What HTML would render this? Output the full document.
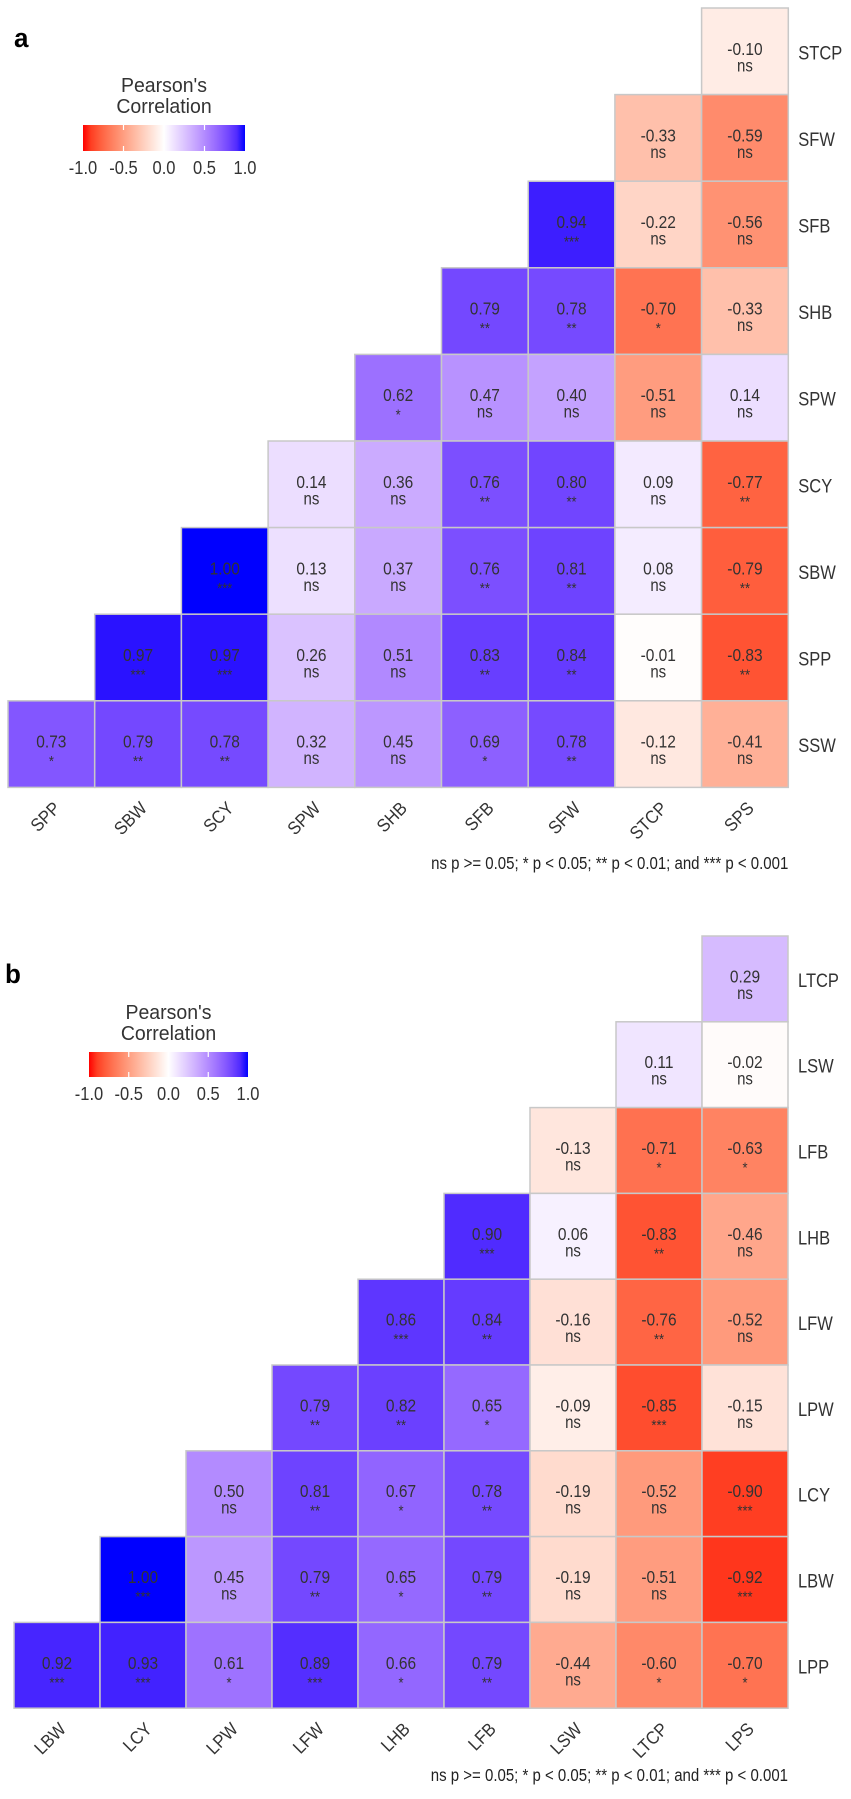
<!DOCTYPE html>
<html><head><meta charset="utf-8">
<style>
html,body{margin:0;padding:0;background:#fff;}
svg{display:block;font-family:"Liberation Sans",Arial,sans-serif;}
</style></head>
<body>
<svg id="chart" width="851" height="1799" viewBox="0 0 851 1799" xmlns="http://www.w3.org/2000/svg"></svg>
<script>
// ----- Panel a data -----
const colsA = ["SPP","SBW","SCY","SPW","SHB","SFB","SFW","STCP","SPS"];
const rowsA = ["STCP","SFW","SFB","SHB","SPW","SCY","SBW","SPP","SSW"];
const valsA = [
 [-0.10],
 [-0.33,-0.59],
 [0.94,-0.22,-0.56],
 [0.79,0.78,-0.70,-0.33],
 [0.62,0.47,0.40,-0.51,0.14],
 [0.14,0.36,0.76,0.80,0.09,-0.77],
 [1.00,0.13,0.37,0.76,0.81,0.08,-0.79],
 [0.97,0.97,0.26,0.51,0.83,0.84,-0.01,-0.83],
 [0.73,0.79,0.78,0.32,0.45,0.69,0.78,-0.12,-0.41]
];
const sigA = [
 ["ns"],
 ["ns","ns"],
 ["***","ns","ns"],
 ["**","**","*","ns"],
 ["*","ns","ns","ns","ns"],
 ["ns","ns","**","**","ns","**"],
 ["***","ns","ns","**","**","ns","**"],
 ["***","***","ns","ns","**","**","ns","**"],
 ["*","**","**","ns","ns","*","**","ns","ns"]
];
// ----- Panel b data -----
const colsB = ["LBW","LCY","LPW","LFW","LHB","LFB","LSW","LTCP","LPS"];
const rowsB = ["LTCP","LSW","LFB","LHB","LFW","LPW","LCY","LBW","LPP"];
const valsB = [
 [0.29],
 [0.11,-0.02],
 [-0.13,-0.71,-0.63],
 [0.90,0.06,-0.83,-0.46],
 [0.86,0.84,-0.16,-0.76,-0.52],
 [0.79,0.82,0.65,-0.09,-0.85,-0.15],
 [0.50,0.81,0.67,0.78,-0.19,-0.52,-0.90],
 [1.00,0.45,0.79,0.65,0.79,-0.19,-0.51,-0.92],
 [0.92,0.93,0.61,0.89,0.66,0.79,-0.44,-0.60,-0.70]
];
const sigB = [
 ["ns"],
 ["ns","ns"],
 ["ns","*","*"],
 ["***","ns","**","ns"],
 ["***","**","ns","**","ns"],
 ["**","**","*","ns","***","ns"],
 ["ns","**","*","**","ns","ns","***"],
 ["***","ns","**","*","**","ns","ns","***"],
 ["***","***","*","***","*","**","ns","*","*"]
];
const legendTicks = [-1.0,-0.5,0.0,0.5,1.0];
const legendTickLabels = ["-1.0","-0.5","0.0","0.5","1.0"];

const NS="http://www.w3.org/2000/svg";
const svg=document.getElementById("chart");
function mk(tag,attrs,parent){const e=document.createElementNS(NS,tag);for(const k in attrs)e.setAttribute(k,attrs[k]);(parent||svg).appendChild(e);return e;}
function txt(parent,x,y,str,size,opts){
 opts=opts||{};
 const sy=opts.sy||1.15;
 let tr=`translate(${x} ${y})`;
 if(opts.rot)tr+=` rotate(${opts.rot})`;
 tr+=` scale(1 ${sy})`;
 const t=mk("text",{x:0,y:0,transform:tr,"font-size":size,fill:opts.fill||"#333","text-anchor":opts.anchor||"start"},parent);
 if(opts.bold)t.setAttribute("font-weight","bold");
 t.textContent=str;return t;
}

// Lab color interpolation
function srgb2lin(c){c/=255;return c<=0.04045?c/12.92:Math.pow((c+0.055)/1.055,2.4);}
function lin2srgb(c){c=c<=0.0031308?12.92*c:1.055*Math.pow(c,1/2.4)-0.055;return Math.max(0,Math.min(255,Math.round(c*255)));}
function rgb2lab(r,g,b){r=srgb2lin(r);g=srgb2lin(g);b=srgb2lin(b);
 let x=(0.4124*r+0.3576*g+0.1805*b)/0.95047,y=(0.2126*r+0.7152*g+0.0722*b),z=(0.0193*r+0.1192*g+0.9505*b)/1.08883;
 const f=t=>t>0.008856?Math.cbrt(t):7.787*t+16/116;
 x=f(x);y=f(y);z=f(z);return[116*y-16,500*(x-y),200*(y-z)];}
function lab2rgb(L,a,bb){let y=(L+16)/116,x=a/500+y,z=y-bb/200;
 const fi=t=>t*t*t>0.008856?t*t*t:(t-16/116)/7.787;
 x=fi(x)*0.95047;y=fi(y);z=fi(z)*1.08883;
 const r=3.2406*x-1.5372*y-0.4986*z,g=-0.9689*x+1.8758*y+0.0415*z,b=0.0557*x-0.2040*y+1.0570*z;
 return`rgb(${lin2srgb(r)},${lin2srgb(g)},${lin2srgb(b)})`;}
const LW=rgb2lab(255,255,255),LR=rgb2lab(255,0,0),LB=rgb2lab(0,0,255);
function color(v){const t=Math.min(1,Math.abs(v));const e=v<0?LR:LB;
 return lab2rgb(LW[0]+(e[0]-LW[0])*t,LW[1]+(e[1]-LW[1])*t,LW[2]+(e[2]-LW[2])*t);}

function panel(cfg){
 const {cols,rows,vals,sig,x0,y0,cw,ch,letter,lx,ly,leg,foot,key}=cfg;
 const g=mk("g",{});
 
 
 const xS=i=>x0+i*cw, yS=j=>y0+j*ch;
 const n=cols.length;
 for(let r=0;r<rows.length;r++){
  const start=n-vals[r].length;
  for(let k=0;k<vals[r].length;k++){
   const c=start+k,v=vals[r][k];
   const rect=mk("rect",{x:xS(c),y:yS(r),width:cw,height:ch,fill:color(v),stroke:"#c8c8c8","stroke-width":1.5},g);
   
   
   const cx=xS(c)+cw/2,cy=yS(r)+ch/2;
   const t=txt(g,cx,cy+3.5,v.toFixed(2),15.5,{anchor:"middle"});
   
   
   const isNs=sig[r][k]==="ns";
   const s=txt(g,cx,isNs?cy+20:cy+22,sig[r][k],isNs?15:13,{anchor:"middle"});
   
   
  }
  const rl=txt(g,xS(n)+10,yS(r)+ch/2+8,rows[r],16.5,{});
  
  
 }
 for(let c=0;c<n;c++){
  const ex=xS(c)+cw/2+10,ey=yS(rows.length)+22;
  const tl=txt(g,ex,ey,cols[c],16.5,{anchor:"end",rot:-45,sy:1.1});
  
  
 }
 const L=txt(g,lx,ly,letter,26,{bold:true,fill:"#000",sy:1.05});
 
 
 // legend
 const lg=mk("g",{},g);
 
 
 const mid=leg.x+leg.w/2;
 const t1=txt(lg,mid,leg.y-33,"Pearson's",19.5,{anchor:"middle",sy:1.05});
 
 
 const t2=txt(lg,mid,leg.y-12,"Correlation",19.5,{anchor:"middle",sy:1.05});
 
 
 const gid="grad"+key;
 const defs=mk("defs",{},lg);const gr=mk("linearGradient",{id:gid,x1:0,x2:1,y1:0,y2:0},defs);
 for(let i=0;i<=20;i++){const v=-1+i/10;mk("stop",{offset:(i/20),"stop-color":color(v)},gr);}
 const bar=mk("rect",{x:leg.x,y:leg.y,width:leg.w,height:leg.h,fill:`url(#${gid})`},lg);
 
 
 const lx2=v=>leg.x+(v+1)/2*leg.w;
 legendTicks.forEach((v,i)=>{
  const x=lx2(v);
  if(i>0&&i<legendTicks.length-1){mk("line",{x1:x,x2:x,y1:leg.y,y2:leg.y+5,stroke:"#fff","stroke-width":1.2},lg);mk("line",{x1:x,x2:x,y1:leg.y+leg.h-5,y2:leg.y+leg.h,stroke:"#fff","stroke-width":1.2},lg);}
  const tt=txt(lg,x,leg.y+leg.h+23,legendTickLabels[i],16.5,{anchor:"middle",sy:1.1});
  
  
 });
 const f=txt(g,xS(n),foot,"ns p >= 0.05; * p < 0.05; ** p < 0.01; and *** p < 0.001",15,{anchor:"end",fill:"#222",sy:1.15});
 
 
}
panel({cols:colsA,rows:rowsA,vals:valsA,sig:sigA,x0:8,y0:8,cw:86.7,ch:86.6,letter:"a",lx:14,ly:47,leg:{x:83,y:125,w:162,h:26},foot:869,key:"a"});
panel({cols:colsB,rows:rowsB,vals:valsB,sig:sigB,x0:14,y0:936,cw:86,ch:85.8,letter:"b",lx:5,ly:983,leg:{x:89,y:1052,w:159,h:25},foot:1781,key:"b"});
</script>
</body></html>
